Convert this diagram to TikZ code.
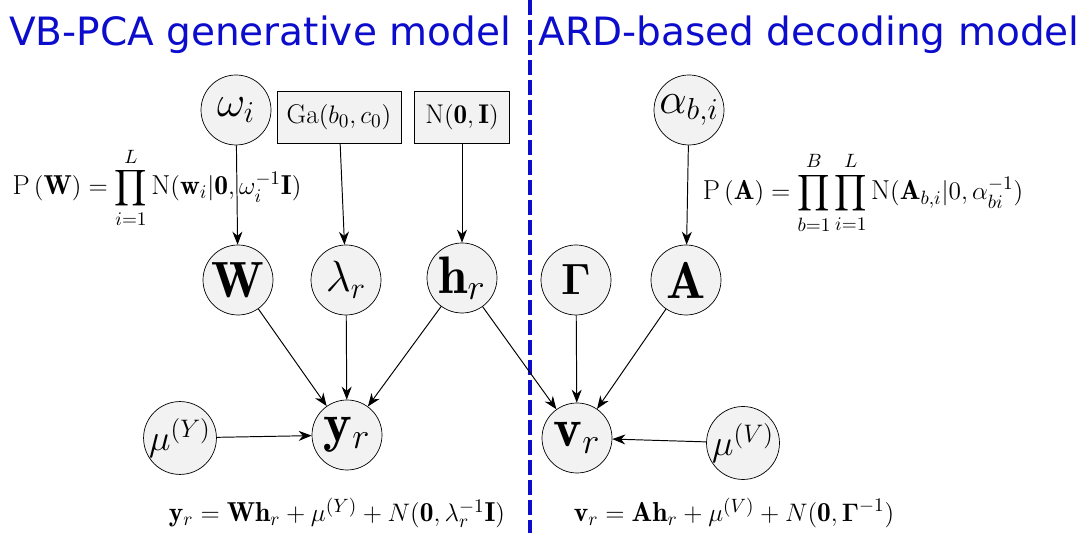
\documentclass[tikz,border=0pt]{standalone}
\usepackage{amsmath}
\usepackage{fontspec}
\newfontfamily\titlefont{DejaVu Sans}
\usetikzlibrary{positioning, arrows.meta}

\definecolor{modelblue}{RGB}{12,12,205}

\newcommand{\fsz}[1]{\fontsize{#1}{#1}\selectfont}

\begin{document}
\begin{tikzpicture}[
    % Styles
    var/.style={circle, draw, fill=gray!10, minimum size=1.4cm, inner sep=0pt},
    prior/.style={rectangle, draw, fill=gray!10, minimum height=1.04cm, inner sep=2pt, font=\fsz{15.4}},
    edge/.style={-{Stealth[length=2.6mm, width=2mm]}, line width=0.55pt},
    title/.style={font=\titlefont\fsz{22.2}, modelblue},
    eqn/.style={font=\fsz{15.6}},
]
\useasboundingbox (0,0) rectangle (21.82,10.66);

% Titles
\node[title] (gentitle) at (5.2, 9.96) {VB-PCA generative model};
\node[title] (dectitle) at (16.18, 9.96) {ARD-based decoding model};

% Separator
\coordinate (septop) at (10.6, 10.66);
\coordinate (sepbot) at (10.6, 0);
\draw[modelblue, line width=2.3pt, dash pattern=on 0.3cm off 0.1cm] (septop) -- (sepbot);

% LEFT SIDE: generative model
\node[var, font=\fsz{26}] (omega) at (4.72, 8.46) {$\omega_i$};
\node[prior, minimum width=2.48cm] (gamma0) at (6.78, 8.32) {$\mathrm{Ga}(b_0,c_0)$};
\node[prior, minimum width=1.9cm] (normal0) at (9.24, 8.32) {$\mathrm{N}(\mathbf{0},\mathbf{I})$};

\node[var, font=\fsz{29}] (W) at (4.76, 5.06) {$\mathbf{W}$};
\node[var, font=\fsz{23}] (lambda) at (6.92, 5.06) {$\lambda_r$};
\node[var, font=\fsz{30}] (h) at (9.24, 5.1) {$\mathbf{h}_r$};

\node[var, font=\fsz{31}] (y) at (6.94, 1.96) {$\mathbf{y}_r$};
\node[var, font=\fsz{21.5}] (muY) at (3.6, 1.9) {$\mu^{(Y)}$};

\node[eqn] (pW) at (3.14, 6.9) {$\mathrm{P}\left(\mathbf{W}\right)=\displaystyle\prod_{i=1}^{L}\mathrm{N}(\mathbf{w}_i|\mathbf{0},\omega_i^{-1}\mathbf{I})$};
\node[eqn] (yeq) at (6.74, 0.4) {$\mathbf{y}_r=\mathbf{W}\mathbf{h}_r+\mu^{(Y)}+N(\mathbf{0},\lambda_r^{-1}\mathbf{I})$};

\draw[edge] (omega) -- (W);
\draw[edge] (gamma0) -- (lambda);
\draw[edge] (normal0) -- (h);
\draw[edge] (W) -- (y);
\draw[edge] (lambda) -- (y);
\draw[edge] (h) -- (y);
\draw[edge] (muY) -- (y);

% RIGHT SIDE: decoding model
\node[var, font=\fsz{24}] (alpha) at (13.78, 8.46) {$\alpha_{b,i}$};
\node[var, font=\fsz{23}] (Gamma) at (11.52, 5.06) {$\boldsymbol{\Gamma}$};
\node[var, font=\fsz{29.5}] (A) at (13.72, 5.06) {$\mathbf{A}$};

\node[var, font=\fsz{31}] (v) at (11.54, 1.9) {$\mathbf{v}_r$};
\node[var, font=\fsz{21.5}] (muV) at (14.86, 1.8) {$\mu^{(V)}$};

\node[eqn] (pA) at (17.26, 6.8) {$\mathrm{P}\left(\mathbf{A}\right)=\displaystyle\prod_{b=1}^{B}\prod_{i=1}^{L}\mathrm{N}(\mathbf{A}_{b,i}|0,\alpha_{bi}^{-1})$};
\node[eqn] (veq) at (14.68, 0.4) {$\mathbf{v}_r=\mathbf{A}\mathbf{h}_r+\mu^{(V)}+N(\mathbf{0},\boldsymbol{\Gamma}^{-1})$};

\draw[edge] (alpha) -- (A);
\draw[edge] (h) -- (v);
\draw[edge] (Gamma) -- (v);
\draw[edge] (A) -- (v);
\draw[edge] (muV) -- (v);

\end{tikzpicture}
\end{document}
